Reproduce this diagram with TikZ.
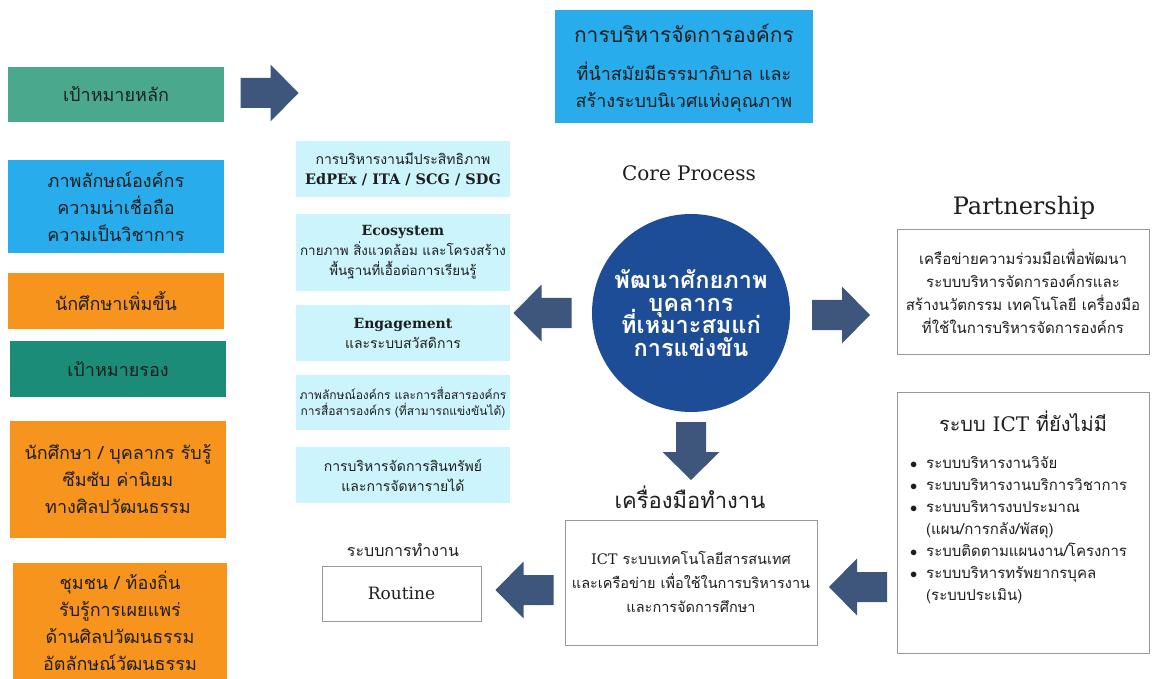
\documentclass[tikz,border=0pt]{standalone}
\usepackage{fontspec}
\setmainfont[Script=Thai]{Loma}
\newfontfamily\lat{DejaVu Serif}
\definecolor{tealA}{RGB}{74,168,140}
\definecolor{tealB}{RGB}{27,140,120}
\definecolor{blueA}{RGB}{41,172,236}
\definecolor{orangeA}{RGB}{247,148,29}
\definecolor{cyanA}{RGB}{204,244,252}
\definecolor{arrowc}{RGB}{62,86,124}
\definecolor{circc}{RGB}{29,77,151}
\definecolor{txt}{RGB}{30,30,30}
\begin{document}
\lineskiplimit=-30pt
\begin{tikzpicture}[x=1pt,y=-1pt,
  box/.style={rectangle, inner sep=0pt, align=center, text=txt},
  lbox/.style={box, minimum width=216, font=\fontsize{18}{27}\selectfont},
  cbox/.style={box, fill=cyanA, minimum width=214, font=\fontsize{14}{20}\selectfont},
  wbox/.style={box, draw=black!40, line width=0.9pt, fill=white},
  barrow/.pic={\fill[arrowc] (-29,-15) -- (1,-15) -- (1,-28.5) -- (29,0) -- (1,28.5) -- (1,15) -- (-29,15) -- cycle;}
]
\useasboundingbox[fill=white] (0,0) rectangle (1152,679);

% left column
\node[lbox, fill=tealA, minimum height=55] (g1) at (116,94.5) {เป้าหมายหลัก};
\node[lbox, fill=blueA, minimum height=93] (img) at (116,206.5) {ภาพลักษณ์องค์กร\\ความน่าเชื่อถือ\\ความเป็นวิชาการ};
\node[lbox, fill=orangeA, minimum height=56] (stu) at (116,301) {นักศึกษาเพิ่มขึ้น};
\node[lbox, fill=tealB, minimum height=56] (g2) at (118,369) {เป้าหมายรอง};
\node[lbox, fill=orangeA, minimum height=117] (stu2) at (118,479.5) {นักศึกษา / บุคลากร รับรู้\\ซึมซับ ค่านิยม\\ทางศิลปวัฒนธรรม};
\node[lbox, fill=orangeA, minimum height=116, minimum width=214] (com) at (120,621) {ชุมชน / ท้องถิ่น\\รับรู้การเผยแพร่\\ด้านศิลปวัฒนธรรม\\อัตลักษณ์วัฒนธรรม};

\pic (aTop) at (269.5,93) {barrow};

% light cyan column
\node[cbox, minimum height=56] (c1) at (403,169) {การบริหารงานมีประสิทธิภาพ\\{\lat\bfseries\fontsize{14.5}{20}\selectfont EdPEx / ITA / SCG / SDG}};
\node[cbox, minimum height=77, font=\fontsize{13.4}{20}\selectfont] (c2) at (403,252.5) {{\lat\bfseries\fontsize{14}{20}\selectfont Ecosystem}\\กายภาพ สิ่งแวดล้อม และโครงสร้าง\\พื้นฐานที่เอื้อต่อการเรียนรู้};
\node[cbox, minimum height=56] (c3) at (403,333) {{\lat\bfseries\fontsize{14}{20}\selectfont Engagement}\\และระบบสวัสดิการ};
\node[cbox, minimum height=55, font=\fontsize{12}{16}\selectfont] (c4) at (403,402.5) {ภาพลักษณ์องค์กร และการสื่อสารองค์กร\\การสื่อสารองค์กร (ที่สามารถแข่งขันได้)};
\node[cbox, minimum height=56] (c5) at (403,475) {การบริหารจัดการสินทรัพย์\\และการจัดหารายได้};

% top box
\node[box, fill=blueA, minimum width=258, minimum height=113] (top) at (684,66.5) {};
\node[box, font=\fontsize{21}{24}\selectfont] (topt1) at (684,33) {การบริหารจัดการองค์กร};
\node[box, font=\fontsize{18}{27}\selectfont] (topt2) at (684,87) {ที่นำสมัยมีธรรมาภิบาล และ\\สร้างระบบนิเวศแห่งคุณภาพ};

% core
\node[box, font=\lat\fontsize{20}{24}\selectfont] (core) at (689,173) {Core Process};
\node[circle, fill=circc, minimum size=198, inner sep=0pt, align=center, text=white, font=\bfseries\fontsize{23.5}{22.5}\selectfont] (circ) at (691,313) {พัฒนาศักยภาพ\\บุคลากร\\ที่เหมาะสมแก่\\การแข่งขัน};

\pic[rotate=180] (aL) at (542.5,313) {barrow};
\pic (aR) at (841,315) {barrow};
\pic[rotate=-90] (aD) at (691,451) {barrow};

% partnership
\node[box, font=\lat\fontsize{24}{28}\selectfont] (pt) at (1024,208) {Partnership};
\node[wbox, minimum width=252, minimum height=125, font=\fontsize{15}{23}\selectfont] (pbox) at (1023,291.5) {เครือข่ายความร่วมมือเพื่อพัฒนา\\ระบบบริหารจัดการองค์กรและ\\สร้างนวัตกรรม เทคโนโลยี เครื่องมือ\\ที่ใช้ในการบริหารจัดการองค์กร};

% ICT box right
\node[wbox, minimum width=252, minimum height=261] (ictr) at (1023,522.5) {};
\node[box, font=\fontsize{20}{24}\selectfont] (ictt) at (1023,421) {ระบบ {\lat ICT} ที่ยังไม่มี};
\node[box, anchor=north west, align=left, font=\fontsize{15}{22}\selectfont] (ictl) at (910,456) {%
\makebox[16pt][l]{$\bullet$}ระบบบริหารงานวิจัย\\
\makebox[16pt][l]{$\bullet$}ระบบบริหารงานบริการวิชาการ\\
\makebox[16pt][l]{$\bullet$}ระบบบริหารงบประมาณ\\
\hspace*{16pt}(แผน/การกลัง/พัสดุ)\\
\makebox[16pt][l]{$\bullet$}ระบบติดตามแผนงาน/โครงการ\\
\makebox[16pt][l]{$\bullet$}ระบบบริหารทรัพยากรบุคล\\
\hspace*{16pt}(ระบบประเมิน)};

% tools
\node[box, font=\fontsize{22}{26}\selectfont] (tools) at (690,497) {เครื่องมือทำงาน};
\node[wbox, minimum width=252, minimum height=125, font=\fontsize{14.5}{24}\selectfont] (ictc) at (691,582.5) {{\lat ICT} ระบบเทคโนโลยีสารสนเทศ\\และเครือข่าย เพื่อใช้ในการบริหารงาน\\และการจัดการศึกษา};

\pic[rotate=180] (aB1) at (524.5,590) {barrow};
\pic[rotate=180] (aB2) at (858,587) {barrow};

% routine
\node[box, font=\fontsize{16}{20}\selectfont] (rs) at (403,550) {ระบบการทำงาน};
\node[wbox, minimum width=159, minimum height=55, font=\lat\fontsize{17}{20}\selectfont] (rt) at (401.5,593.5) {Routine};
\end{tikzpicture}
\end{document}
